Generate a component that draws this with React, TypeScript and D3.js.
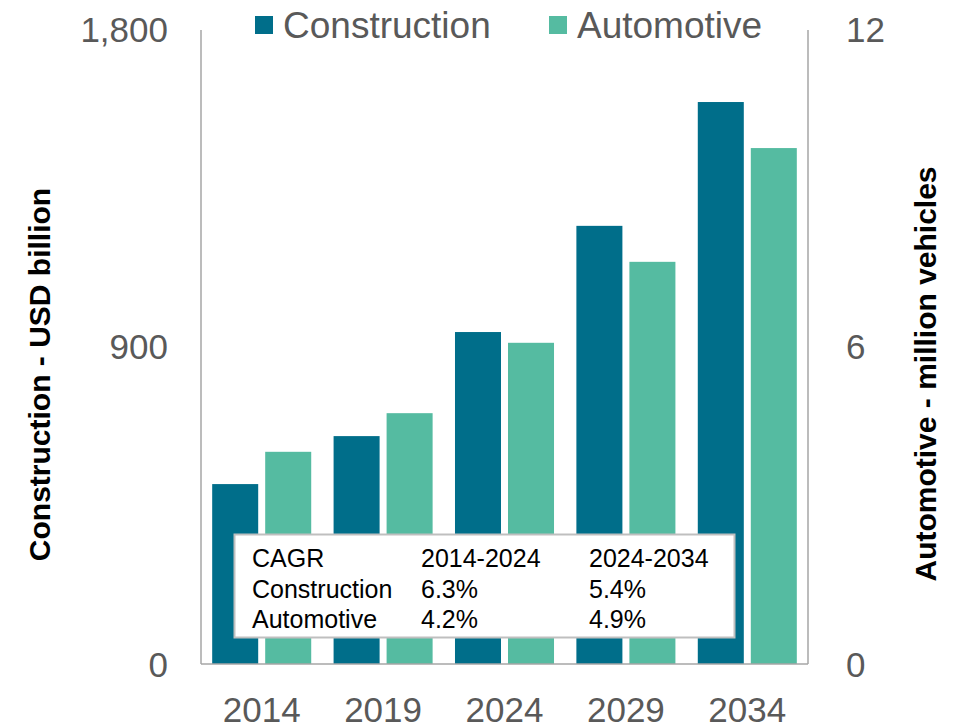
import React from "react";
import * as d3 from "d3";

const years = ["2014", "2019", "2024", "2029", "2034"];
const construction = [510, 646, 941, 1242, 1593];
const automotive = [4.01, 4.74, 6.07, 7.6, 9.75];
const leftTicks = [0, 900, 1800];
const rightTicks = [0, 6, 12];
const seriesNames = ["Construction", "Automotive"];
const seriesColors = ["#006E8A", "#55BBA1"];
const tableRows = [
  ["CAGR", "2014-2024", "2024-2034"],
  ["Construction", "6.3%", "5.4%"],
  ["Automotive", "4.2%", "4.9%"],
];

const W = 961;
const H = 727;
const font = "'Liberation Sans', Arial, sans-serif";

export default function App() {
  const x0 = 201;
  const x1 = 808;
  const yTop = 29;
  const yBot = 664;
  const x = d3.scaleBand<string>().domain(years).range([x0, x1]).padding(0);
  const inner = d3
    .scaleBand<string>()
    .domain(seriesNames)
    .range([0, x.bandwidth()])
    .paddingInner(0.132)
    .paddingOuter(0.211);
  const yL = d3.scaleLinear().domain([0, 1800]).range([yBot, yTop]);
  const yR = d3.scaleLinear().domain([0, 12]).range([yBot, yTop]);
  const fmt = d3.format(",");

  const tableX = [252, 421, 589];
  const tableY = [567, 598, 628];

  return (
    <svg
      width={W}
      height={H}
      style={{ position: "absolute", left: 0, top: 0, background: "#fff" }}
      fontFamily={font}
    >
      <rect x={0} y={0} width={W} height={H} fill="#fff" />
      {/* bars */}
      {years.map((yr, i) => (
        <g key={yr}>
          <rect
            x={(x(yr) as number) + (inner("Construction") as number)}
            y={yL(construction[i])}
            width={inner.bandwidth()}
            height={yBot - yL(construction[i])}
            fill={seriesColors[0]}
          />
          <rect
            x={(x(yr) as number) + (inner("Automotive") as number)}
            y={yR(automotive[i])}
            width={inner.bandwidth()}
            height={yBot - yR(automotive[i])}
            fill={seriesColors[1]}
          />
        </g>
      ))}
      {/* axes lines */}
      <line x1={x0} x2={x0} y1={30} y2={yBot} stroke="#A6A6A6" strokeWidth={1.5} />
      <line x1={x1} x2={x1} y1={30} y2={yBot} stroke="#A6A6A6" strokeWidth={1.5} />
      <line x1={x0} x2={x1} y1={yBot} y2={yBot} stroke="#A6A6A6" strokeWidth={1.5} />
      {/* left ticks */}
      {leftTicks.map((t) => (
        <text
          key={"l" + t}
          x={168}
          y={yL(t)}
          dy="0.36em"
          textAnchor="end"
          fontSize={35}
          fill="#595959"
        >
          {fmt(t)}
        </text>
      ))}
      {rightTicks.map((t) => (
        <text
          key={"r" + t}
          x={846}
          y={yR(t)}
          dy="0.36em"
          textAnchor="start"
          fontSize={35}
          fill="#595959"
        >
          {t}
        </text>
      ))}
      {/* x labels */}
      {years.map((yr) => (
        <text
          key={"x" + yr}
          x={(x(yr) as number) + x.bandwidth() / 2}
          y={722}
          textAnchor="middle"
          fontSize={35}
          fill="#595959"
        >
          {yr}
        </text>
      ))}
      {/* axis titles */}
      <text
        transform="translate(50,374.5) rotate(-90)"
        textAnchor="middle"
        fontSize={30}
        fontWeight="bold"
        fill="#000"
      >
        Construction - USD billion
      </text>
      <text
        transform="translate(936,374) rotate(-90)"
        textAnchor="middle"
        fontSize={30}
        fontWeight="bold"
        fill="#000"
      >
        Automotive - million vehicles
      </text>
      {/* legend */}
      {seriesNames.map((s, i) => {
        const lx = i === 0 ? 255 : 549;
        return (
          <g key={"lg" + s}>
            <rect x={lx} y={16} width={18} height={18} fill={seriesColors[i]} />
            <text x={lx + 28} y={38} fontSize={37} fill="#595959">
              {s}
            </text>
          </g>
        );
      })}
      {/* CAGR table */}
      <rect x={234.5} y={534.5} width={500} height={103} fill="#fff" stroke="#BFBFBF" strokeWidth={2} />
      {tableRows.map((row, r) =>
        row.map((cell, c) => (
          <text key={"t" + r + c} x={tableX[c]} y={tableY[r]} fontSize={25} fill="#000">
            {cell}
          </text>
        ))
      )}
    </svg>
  );
}
